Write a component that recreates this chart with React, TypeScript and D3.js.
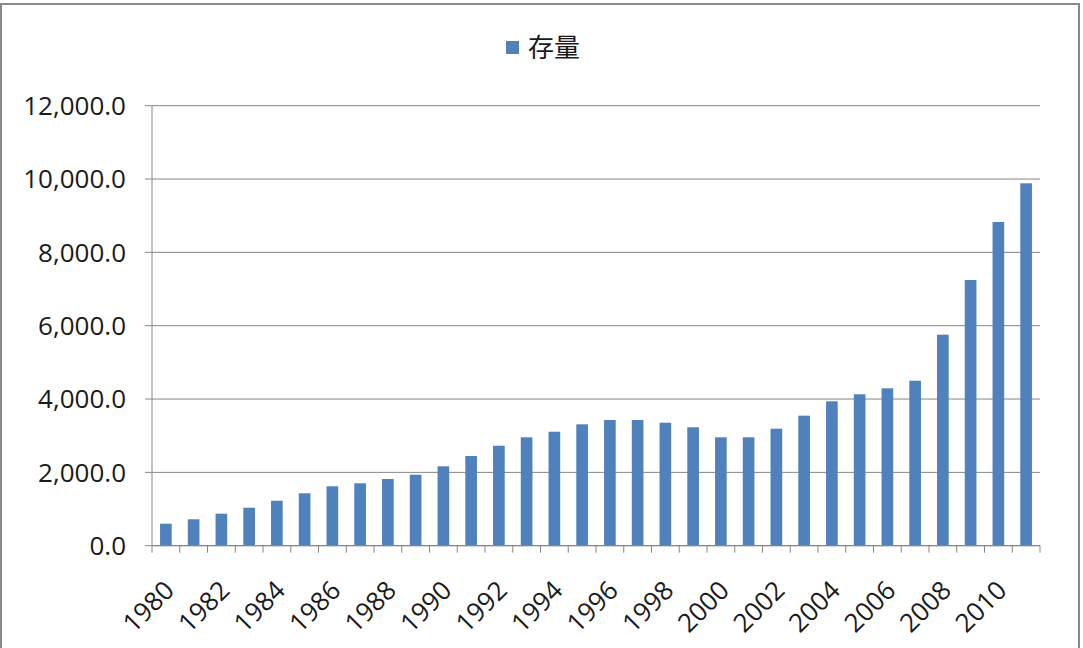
import React from "react";
import * as d3 from "d3";

const years: string[] = [
  "1980","1981","1982","1983","1984","1985","1986","1987","1988","1989",
  "1990","1991","1992","1993","1994","1995","1996","1997","1998","1999",
  "2000","2001","2002","2003","2004","2005","2006","2007","2008","2009",
  "2010","2011",
];
const stock: number[] = [
  600, 720, 873, 1036, 1227, 1429, 1620, 1702, 1819, 1936,
  2165, 2446, 2727, 2956, 3109, 3310, 3428, 3428, 3354, 3229,
  2956, 2956, 3191, 3546, 3938, 4129, 4292, 4500, 5755, 7246,
  8828, 9883,
];
const yTicks: number[] = [0, 2000, 4000, 6000, 8000, 10000, 12000];
const seriesName = "存量";

const W = 1083;
const H = 648;
const left = 152;
const right = 1040;
const top = 105.7;
const bottom = 545.7;
const gridColor = "#868686";
const barColor = "#4F81BD";
const textColor = "#1a1a1a";
const font = "'Open Sans', 'Liberation Sans', sans-serif";

export default function App() {
  const x = d3.scaleBand<string>().domain(years).range([left, right]).paddingInner(0.58).paddingOuter(0.29);
  const y = d3.scaleLinear().domain([0, 12000]).range([bottom, top]);
  const step = x.step();
  const fmt = d3.format(",.1f");
  const boundaries = d3.range(years.length + 1).map((i) => left + i * step);

  return (
    <div style={{ position: "absolute", left: 0, top: 0 }}>
      <svg width={W} height={H} style={{ display: "block", background: "#fff" }}>
        <rect x={1} y={4} width={1078} height={660} fill="#fff" stroke="#8a8a8a" strokeWidth={2} />
        {/* legend */}
        <rect x={506} y={41} width={13} height={13} fill={barColor} />
        <text x={528} y={57} fontFamily="'Noto Sans CJK SC', sans-serif" fontSize={26} fill={textColor}>
          {seriesName}
        </text>
        {/* gridlines */}
        {yTicks.map((t) => (
          <g key={t}>
            <line x1={left - 7} x2={right} y1={y(t)} y2={y(t)} stroke={gridColor} strokeWidth={1} />
            <text x={126} y={y(t)} dy="0.36em" textAnchor="end" fontFamily={font} fontSize={26} fill={textColor}>
              {fmt(t)}
            </text>
          </g>
        ))}
        {/* bars */}
        {years.map((yr, i) => (
          <rect key={yr} x={x(yr)} y={y(stock[i])} width={x.bandwidth()} height={bottom - y(stock[i])} fill={barColor} />
        ))}
        {/* axes */}
        <line x1={left} x2={left} y1={top} y2={bottom} stroke={gridColor} strokeWidth={1} />
        <line x1={left} x2={right} y1={bottom} y2={bottom} stroke={gridColor} strokeWidth={1} />
        {boundaries.map((bx, i) => (
          <line key={i} x1={bx} x2={bx} y1={bottom} y2={bottom + 7} stroke={gridColor} strokeWidth={1} />
        ))}
        {years.map((yr, i) =>
          i % 2 === 0 ? (
            <text
              key={yr}
              transform={`translate(${(x(yr) as number) + x.bandwidth() / 2 + 10},${592}) rotate(-45)`}
              textAnchor="end"
              fontFamily={font}
              fontSize={26}
              fill={textColor}
            >
              {yr}
            </text>
          ) : null
        )}
      </svg>
    </div>
  );
}
